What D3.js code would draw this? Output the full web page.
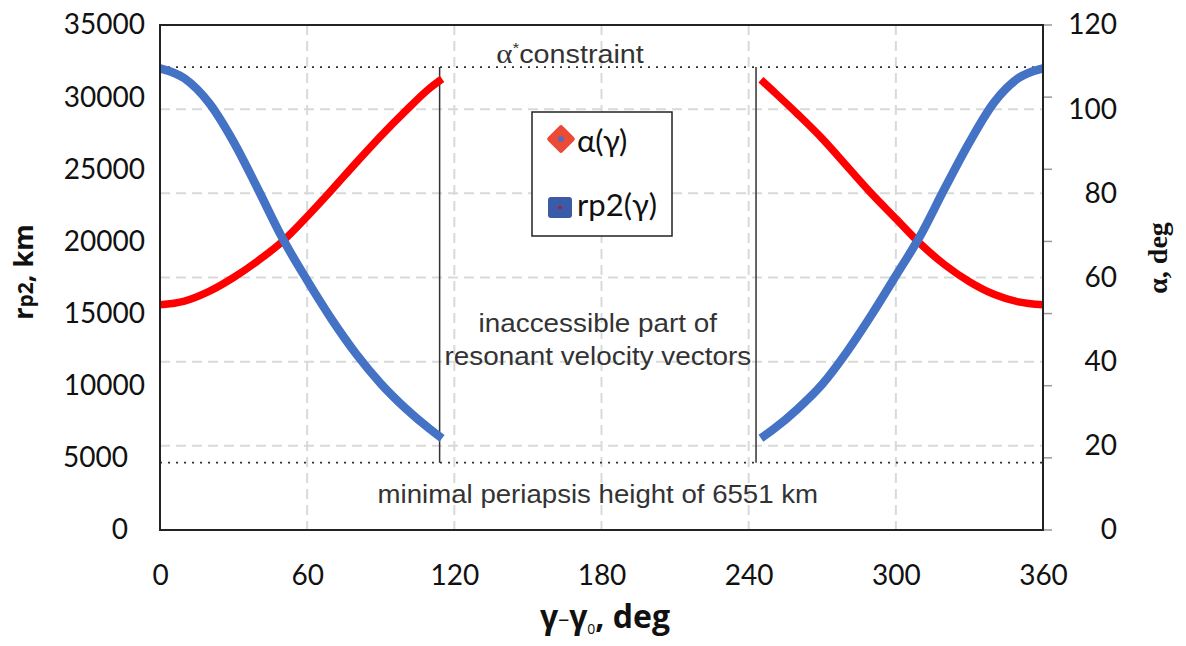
<!DOCTYPE html>
<html>
<head>
<meta charset="utf-8">
<script src="https://cdn.jsdelivr.net/npm/d3@7"></script>
<style>
  body { margin: 0; background: #fff; }
  svg { display: block; }
</style>
</head>
<body>
<div id="chart"></div>
<script>
// Values.
// left branch (before the inaccessible gap)
const gammaLeft = [0, 10, 20, 30, 40, 50, 60, 70, 80, 90, 100, 110, 115];
const rp2Left   = [32000, 31300, 29600, 26900, 23600, 20200, 17300, 14600, 12200, 10150, 8450, 7000, 6350];
const alphaLeft = [53.5, 54.4, 56.7, 60.0, 64.0, 68.6, 74.5, 80.8, 87.3, 93.6, 99.5, 105.0, 107.2];
// right branch (after the gap)
const gammaRight = [245, 250, 260, 270, 280, 290, 300, 310, 320, 330, 340, 350, 360];
const rp2Right   = [6360, 6970, 8400, 10100, 12330, 14880, 17620, 20400, 23700, 26870, 29620, 31320, 32000];
const alphaRight = [107.0, 104.3, 98.8, 93.0, 86.5, 80.0, 74.0, 68.0, 63.0, 59.0, 56.0, 54.2, 53.5];

const xTicks = [0, 60, 120, 180, 240, 300, 360];
const rpTicks = [0, 5000, 10000, 15000, 20000, 25000, 30000, 35000];
const alphaTicks = [0, 20, 40, 60, 80, 100, 120];

const alphaConstraint = 110;   // dotted line, top
const alphaMinimal = 16;       // dotted line, bottom
const gapEdges = [114, 243];   // vertical lines bounding the gap

const width = 1186, height = 646;
const marginLeft = 160, marginRight = 143, marginTop = 25, marginBottom = 116;

const svg = d3.select("#chart").append("svg")
    .attr("width", width)
    .attr("height", height);

const x = d3.scaleLinear().domain([0, 360]).range([marginLeft, width - marginRight]);
const yL = d3.scaleLinear().domain([0, 35000]).range([height - marginBottom, marginTop]);
const yR = d3.scaleLinear().domain([0, 120]).range([height - marginBottom, marginTop]);

const x0 = x(0), x1 = x(360), yTop = yL(35000), yBot = yL(0);

// grid (dashed, light grey)
const grid = svg.append("g")
    .attr("stroke", "#d9d9d9")
    .attr("stroke-width", 2)
    .attr("stroke-dasharray", "10,6");

grid.selectAll("line.v")
    .data(xTicks.filter(d => d > 0 && d < 360))
    .join("line")
    .attr("class", "v")
    .attr("x1", d => x(d)).attr("x2", d => x(d))
    .attr("y1", yTop).attr("y2", yBot);

grid.selectAll("line.h")
    .data(alphaTicks.filter(d => d > 0 && d < 120))
    .join("line")
    .attr("class", "h")
    .attr("x1", x0).attr("x2", x1)
    .attr("y1", d => yR(d)).attr("y2", d => yR(d));

// small grey tick marks on the right edge (primary axis positions)
svg.append("g")
    .selectAll("line")
    .data(rpTicks)
    .join("line")
    .attr("x1", x1).attr("x2", x1 + 9)
    .attr("y1", d => yL(d)).attr("y2", d => yL(d))
    .attr("stroke", "#999")
    .attr("stroke-width", 1.5);

// dotted constraint lines
svg.append("g")
    .attr("stroke", "#333")
    .attr("stroke-width", 1.8)
    .attr("stroke-dasharray", "2,6")
    .selectAll("line")
    .data([alphaConstraint, alphaMinimal])
    .join("line")
    .attr("x1", x0).attr("x2", x1)
    .attr("y1", d => yR(d)).attr("y2", d => yR(d));

// vertical lines bounding the inaccessible part
svg.append("g")
    .attr("stroke", "#333")
    .attr("stroke-width", 1.5)
    .selectAll("line")
    .data(gapEdges)
    .join("line")
    .attr("x1", d => x(d)).attr("x2", d => x(d))
    .attr("y1", yR(alphaConstraint)).attr("y2", yR(alphaMinimal));

// curves
const lineRp = d3.line().x(d => x(d[0])).y(d => yL(d[1])).curve(d3.curveMonotoneX);
const lineAl = d3.line().x(d => x(d[0])).y(d => yR(d[1])).curve(d3.curveMonotoneX);

const series = [
    {pts: d3.zip(gammaLeft, alphaLeft), line: lineAl, color: "#ff0000", w: 7.5},
    {pts: d3.zip(gammaRight, alphaRight), line: lineAl, color: "#ff0000", w: 7.5},
    {pts: d3.zip(gammaLeft, rp2Left), line: lineRp, color: "#4472c4", w: 8.5},
    {pts: d3.zip(gammaRight, rp2Right), line: lineRp, color: "#4472c4", w: 8.5}
];

svg.append("g")
    .selectAll("path")
    .data(series)
    .join("path")
    .attr("fill", "none")
    .attr("stroke", d => d.color)
    .attr("stroke-width", d => d.w)
    .attr("d", d => d.line(d.pts));

// frame
svg.append("rect")
    .attr("x", x0).attr("y", yTop)
    .attr("width", x1 - x0).attr("height", yBot - yTop)
    .attr("fill", "none")
    .attr("stroke", "#222")
    .attr("stroke-width", 2);

// axes
const tickFont = "Lato, 'Noto Sans', sans-serif";

const gx = svg.append("g")
    .attr("transform", `translate(0,${yBot})`)
    .call(d3.axisBottom(x).tickValues(xTicks).tickSize(0).tickPadding(41));
const gl = svg.append("g")
    .attr("transform", `translate(${x0},0)`)
    .call(d3.axisLeft(yL).tickValues(rpTicks).tickSize(0).tickPadding(15).tickFormat(d3.format("d")));
const gr = svg.append("g")
    .attr("transform", `translate(${x1},0)`)
    .call(d3.axisRight(yR).tickValues(alphaTicks).tickSize(0));

[gx, gl, gr].forEach(g => {
    g.select(".domain").remove();
    g.selectAll("text")
        .attr("font-family", tickFont)
        .attr("font-size", 28)
        .attr("fill", "#111");
});
gx.selectAll("text").attr("dy", "0.5em");
// shorter labels sit a bit further left in the reference
gl.selectAll("text").attr("dx", d => d < 10000 ? -17 : 0);
gr.selectAll("text").attr("text-anchor", "end").attr("x", 74);

// axis titles
const lt = svg.append("text")
    .attr("transform", `translate(33,272) rotate(-90)`)
    .attr("text-anchor", "middle")
    .attr("font-family", "'Open Sans', 'Noto Sans', sans-serif")
    .attr("font-weight", "bold")
    .attr("font-size", 27)
    .attr("fill", "#111");
lt.append("tspan").text("r");
lt.append("tspan").attr("font-size", 21).text("p2");
lt.append("tspan").text(", km");

svg.append("text")
    .attr("transform", `translate(1167,258) rotate(-90)`)
    .attr("text-anchor", "middle")
    .attr("font-family", "'Liberation Serif', serif")
    .attr("font-weight", "bold")
    .attr("font-size", 28)
    .attr("fill", "#111")
    .text("α, deg");

const xt = svg.append("text")
    .attr("x", 605).attr("y", 628)
    .attr("text-anchor", "middle")
    .attr("font-family", "'Open Sans', 'Noto Sans', sans-serif")
    .attr("font-weight", "bold")
    .attr("font-size", 32)
    .attr("fill", "#111");
xt.append("tspan").text("γ");
xt.append("tspan").attr("font-weight", "normal").attr("font-size", 22).attr("dy", -2).text("–");
xt.append("tspan").attr("dy", 2).text("γ");
xt.append("tspan").attr("font-weight", "normal").attr("font-size", 14).attr("dy", 6).text("0");
xt.append("tspan").attr("dy", -6).text(", deg");

// annotations (the reference lettering is a little wide, so stretch it)
const noteFont = "'Liberation Sans', Arial, sans-serif";
const noteCx = (x(gapEdges[0]) + x(gapEdges[1])) / 2;

function note(cx, cy, sx) {
    return svg.append("g")
        .attr("transform", `translate(${cx},${cy}) scale(${sx},1)`)
        .append("text")
        .attr("text-anchor", "middle")
        .attr("font-family", noteFont)
        .attr("font-size", 25)
        .attr("fill", "#333");
}

const ac = note(570, 63, 1.15);
ac.append("tspan").attr("font-family", "'Liberation Serif', serif").attr("font-size", 27).text("α");
ac.append("tspan").attr("font-size", 15).attr("dy", -10).text("*");
ac.append("tspan").attr("dy", 10).text("constraint");

note(noteCx, 332, 1.115).selectAll("tspan")
    .data(["inaccessible part of", "resonant velocity vectors"])
    .join("tspan")
    .attr("x", 0)
    .attr("y", (d, i) => i * 33)
    .text(d => d);

note(noteCx, 503, 1.105).text("minimal periapsis height of 6551 km");

// legend
const lg = svg.append("g").attr("transform", "translate(532,112)");
lg.append("rect")
    .attr("width", 140).attr("height", 124)
    .attr("fill", "#fff")
    .attr("stroke", "#222")
    .attr("stroke-width", 1.5);

lg.append("rect")
    .attr("x", -10.5).attr("y", -10.5).attr("width", 21).attr("height", 21).attr("rx", 2.5)
    .attr("transform", "translate(29,27) rotate(45)")
    .attr("fill", "#ea4a36");
lg.append("circle").attr("cx", 29).attr("cy", 27).attr("r", 2.8).attr("fill", "#4472c4");

lg.append("rect")
    .attr("x", 16).attr("y", 85).attr("width", 24).attr("height", 21).attr("rx", 3)
    .attr("fill", "#3a5ca8");
lg.append("circle").attr("cx", 28).attr("cy", 95.5).attr("r", 1.6).attr("fill", "#e00");

lg.selectAll("text.lab")
    .data(["α(γ)", "rp2(γ)"])
    .join("text")
    .attr("class", "lab")
    .attr("x", 45)
    .attr("y", (d, i) => i ? 104 : 40)
    .attr("font-family", tickFont)
    .attr("font-size", 31)
    .attr("fill", "#111")
    .text(d => d);
</script>
</body>
</html>
